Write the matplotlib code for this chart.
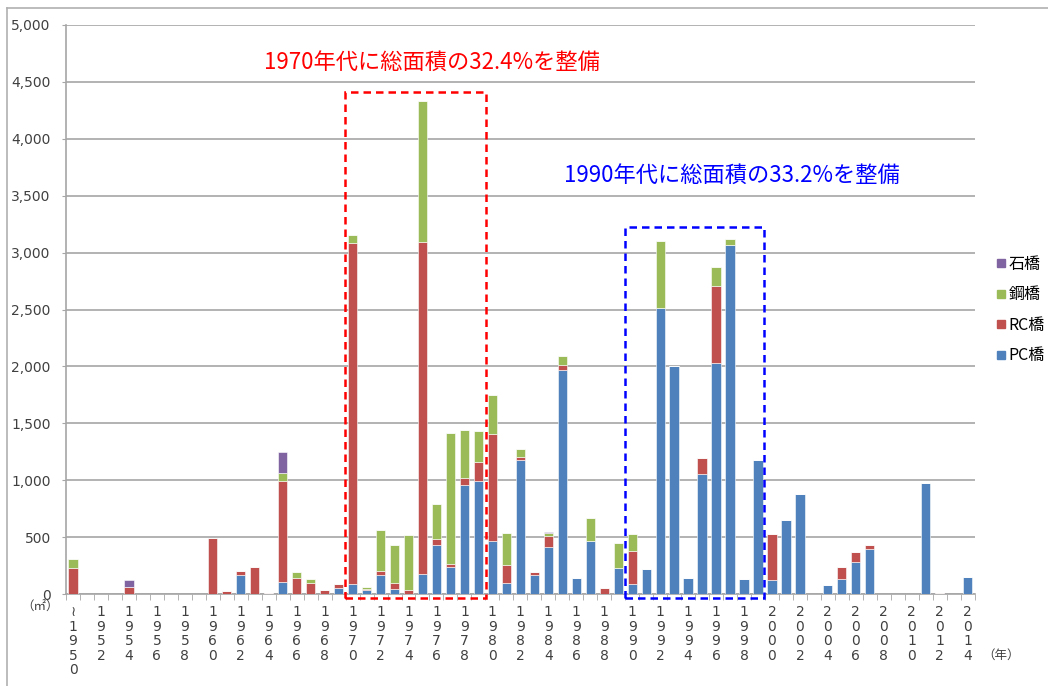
import numpy as np
import matplotlib
matplotlib.use("Agg")
import matplotlib.pyplot as plt
from matplotlib.lines import Line2D
from matplotlib.patches import Rectangle

plt.rcParams['font.family'] = ['Noto Sans CJK JP', 'DejaVu Sans']

years = list(range(1950, 2015))

# bridge deck area by year (m2), stacked bottom to top
pc = [0, 0, 0, 0, 0, 0, 0, 0, 0, 0,
      0, 0, 164, 0, 0, 108, 0, 0, 0, 50,
      91, 40, 164, 41, 5, 179, 431, 237, 955, 993,
      466, 99, 1177, 164, 416, 1965, 141, 469, 0, 232,
      91, 220, 2510, 2006, 138, 1057, 2033, 3067, 135, 1175,
      120, 650, 879, 0, 79, 129, 281, 392, 0, 0,
      0, 972, 0, 0, 146]
rc = [231, 0, 0, 0, 64, 0, 0, 0, 0, 0,
      490, 23, 38, 234, 8, 885, 144, 97, 35, 35,
      2996, 5, 38, 56, 33, 2917, 52, 30, 67, 170,
      943, 153, 30, 26, 97, 44, 0, 0, 53, 0,
      287, 0, 0, 0, 0, 138, 674, 0, 0, 0,
      407, 0, 0, 0, 0, 105, 85, 36, 0, 0,
      0, 0, 12, 0, 0]
steel = [74, 0, 0, 0, 0, 0, 0, 0, 0, 0,
         0, 0, 0, 0, 0, 73, 49, 35, 0, 0,
         68, 17, 360, 334, 480, 1236, 308, 1148, 422, 269,
         340, 287, 64, 0, 26, 82, 0, 196, 0, 216,
         149, 0, 592, 0, 0, 0, 166, 53, 0, 0,
         0, 0, 0, 0, 0, 0, 0, 0, 0, 0,
         0, 0, 0, 0, 0]
stone = [0, 0, 0, 0, 56, 0, 0, 0, 0, 0,
         0, 0, 0, 0, 0, 179, 0, 0, 0, 0,
         0, 0, 0, 0, 0, 0, 0, 0, 0, 0,
         0, 0, 0, 0, 9, 0, 0, 0, 0, 0,
         0, 0, 0, 0, 0, 0, 0, 0, 0, 0,
         0, 0, 0, 0, 0, 0, 0, 0, 0, 0,
         0, 0, 0, 0, 0]

series = [("PC橋", pc, "#4F81BD"), ("RC橋", rc, "#C0504D"),
          ("鋼橋", steel, "#9BBB59"), ("石橋", stone, "#8064A2")]

fig = plt.figure(figsize=(10.48, 6.86), dpi=100)
ax = fig.add_axes([0.063, 0.134, 0.867, 0.8296])

x = np.arange(len(years))
bottom = np.zeros(len(years))
for name, vals, col in series:
    v = np.array(vals, dtype=float)
    ax.bar(x, v, width=0.66, bottom=bottom, color=col, edgecolor="white",
           linewidth=0.4, zorder=3)
    bottom += v

ax.set_xlim(-0.5, len(years) - 0.5)
ax.set_ylim(0, 5000)
ax.set_yticks(np.arange(0, 5001, 500))
ax.set_yticklabels([f"{v:,}" for v in range(0, 5001, 500)], family="DejaVu Sans")
ax.yaxis.grid(True, color="#a6a6a6", linewidth=1.2, zorder=0)
ax.tick_params(axis="y", length=3, color="#a6a6a6", labelsize=10,
               labelcolor="#404040", pad=8)

labels = []
for yr in years[::2]:
    s = "\n".join(str(yr))
    if yr == 1950:
        s = "≀\n" + s
    labels.append(s)
ax.set_xticks(x[::2])
ax.set_xticklabels(labels, family="DejaVu Sans", fontsize=10, color="#404040",
                   linespacing=1.05, va="top")
ax.set_xticks(np.arange(-0.5, len(years), 1), minor=True)
ax.tick_params(axis="x", which="major", length=0, pad=8)
ax.tick_params(axis="x", which="minor", length=4, color="#a6a6a6")

for side in ["top", "right"]:
    ax.spines[side].set_visible(False)
ax.spines["left"].set_color("#a6a6a6")
ax.spines["bottom"].set_color("#a6a6a6")
ax.spines["left"].set_linewidth(1.2)
ax.spines["bottom"].set_linewidth(1.2)

# highlighted decades
ax.add_patch(Rectangle((19.45, -35), 10.1, 4446, fill=False, edgecolor="#FF0000",
                       linestyle=(0, (3, 2)), linewidth=1.8, clip_on=False, zorder=5))
ax.add_patch(Rectangle((39.5, -38), 9.95, 3266, fill=False, edgecolor="#0000FF",
                       linestyle=(0, (3, 2)), linewidth=1.8, clip_on=False, zorder=5))
ax.text(25.7, 4675, "1970年代に総面積の32.4%を整備", color="#FF0000", fontsize=16,
        ha="center", va="center", zorder=6)
ax.text(47.1, 3682, "1990年代に総面積の33.2%を整備", color="#0000FF", fontsize=16,
        ha="center", va="center", zorder=6)

handles = [Line2D([], [], marker="s", linestyle="none", markersize=6,
                  markerfacecolor=col, markeredgecolor=col, label=name)
           for name, vals, col in series[::-1]]
fig.legend(handles=handles, loc="center left", bbox_to_anchor=(0.935, 0.548),
           frameon=False, fontsize=11.5, handletextpad=0.1, labelspacing=0.85,
           handlelength=0.8)

fig.text(0.038, 0.115, "（㎡）", fontsize=9, color="#404040", ha="center", va="center")
fig.text(0.955, 0.045, "（年）", fontsize=9, color="#404040", ha="center", va="center")

# outer chart frame (top and left edges)
fig.add_artist(Line2D([0.0067, 1.0], [0.988, 0.988], color="#b0b0b0", linewidth=1.2))
fig.add_artist(Line2D([0.0067, 0.0067], [0.0, 0.988], color="#b0b0b0", linewidth=1.2))

fig.savefig("out.png", dpi=100)
